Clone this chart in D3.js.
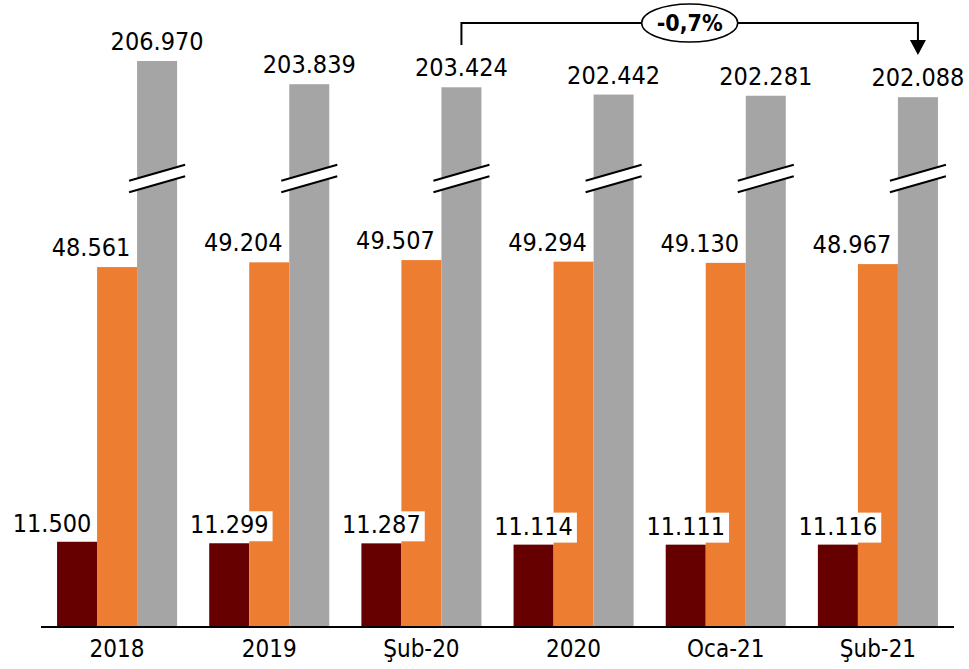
<!DOCTYPE html>
<meta charset="utf-8">
<style>
body { margin: 0; background: #fff; }
text {
  font-family: "DejaVu Sans Condensed", "DejaVu Sans", sans-serif;
  font-size: 25px;
  fill: #000;
}
.axis path { stroke: #000; stroke-width: 2px; }
.axis text { font-size: 24px; }
.change { font-weight: bold; font-size: 23px; }
</style>
<svg width="969" height="669"></svg>
<script src="https://d3js.org/d3.v7.min.js"></script>
<script>

var categories = ["2018", "2019", "Şub-20", "2020", "Oca-21", "Şub-21"];
var darkValues = [11500, 11299, 11287, 11114, 11111, 11116];
var orangeValues = [48561, 49204, 49507, 49294, 49130, 48967];
var grayValues = [206970, 203839, 203424, 202442, 202281, 202088];
var changeLabel = "-0,7%";

// gray bars are cut: this much is left out of their height
var grayBreak = 130600;

var svg = d3.select("svg");

var fmt = d3.formatLocale({decimal: ",", thousands: ".", grouping: [3], currency: ["", ""]}).format(",d");

var x0 = d3.scaleBand()
    .domain(categories)
    .range([41, 954])
    .paddingInner(0.211)
    .paddingOuter(0.1055);

var series = ["dark", "orange", "gray"];
var x1 = d3.scaleBand().domain(series).range([0, x0.bandwidth()]);

var y = d3.scaleLinear().domain([0, 84600]).range([627, 0]);

var color = d3.scaleOrdinal().domain(series).range(["#660000", "#ED7D31", "#A5A5A5"]);

var rows = categories.map(function(c, i) {
  return {cat: c, i: i, dark: darkValues[i], orange: orangeValues[i], gray: grayValues[i]};
});

function barTop(d, k) {
  return k === "gray" ? y(d[k] - grayBreak) : y(d[k]);
}

var groups = svg.selectAll(".grp")
  .data(rows)
  .enter().append("g")
    .attr("class", "grp")
    .attr("transform", function(d) { return "translate(" + x0(d.cat) + ",0)"; });

series.forEach(function(k) {
  groups.append("rect")
      .attr("x", x1(k))
      .attr("width", x1.bandwidth())
      .attr("y", function(d) { return barTop(d, k); })
      .attr("height", function(d) { return y(0) - barTop(d, k); })
      .attr("fill", color(k));
});

// break marks on the gray bars
var by = y(61300), bx0 = x1("gray") - 8, bx1 = x1("gray") + x1.bandwidth() + 8;
groups.append("path")
    .attr("d", "M" + bx0 + "," + (by + 8) + "L" + bx1 + "," + (by - 8) +
               "L" + bx1 + "," + (by + 4) + "L" + bx0 + "," + (by + 19) + "Z")
    .attr("fill", "#fff");
[0, 11.5].forEach(function(off) {
  groups.append("line")
      .attr("x1", bx0).attr("y1", by + 8 + off)
      .attr("x2", bx1).attr("y2", by - 8 + off)
      .attr("stroke", "#000")
      .attr("stroke-width", 2);
});

// value labels
groups.append("text")
    .attr("text-anchor", "middle")
    .attr("x", x1("gray") + x1.bandwidth() / 2)
    .attr("y", function(d) { return barTop(d, "gray") - 11; })
    .text(function(d) { return fmt(d.gray); });

groups.append("text")
    .attr("text-anchor", "middle")
    .attr("x", x1("orange") + x1.bandwidth() / 2 - 26)
    .attr("y", function(d) { return barTop(d, "orange") - 11; })
    .text(function(d) { return fmt(d.orange); });

var darkLab = groups.append("g");
var darkText = darkLab.append("text")
    .attr("text-anchor", "middle")
    .attr("x", function(d) { return x1("dark") + x1.bandwidth() / 2 - (d.i === 0 ? 25 : 0); })
    .attr("y", function(d) { return barTop(d, "dark") - 10; })
    .text(function(d) { return fmt(d.dark); });
darkText.each(function() {
  var b = this.getBBox();
  d3.select(this.parentNode).insert("rect", "text")
      .attr("x", b.x - 3).attr("y", b.y + 1)
      .attr("width", b.width + 7).attr("height", b.height + 1)
      .attr("fill", "#fff");
});

// x axis
svg.append("g")
    .attr("class", "axis")
    .attr("transform", "translate(0," + y(0) + ")")
    .call(d3.axisBottom(x0).tickSize(0).tickPadding(13))
    .call(function(g) { g.select(".domain").attr("d", "M41,0H954"); });

// change annotation from Şub-20 to Şub-21
var ax0 = x0("Şub-20") + x1("gray") + x1.bandwidth() / 2,
    ax1 = x0("Şub-21") + x1("gray") + x1.bandwidth() / 2,
    ay = 23;
svg.append("path")
    .attr("d", "M" + ax0 + ",45V" + ay + "H" + ax1 + "V42")
    .attr("fill", "none")
    .attr("stroke", "#000")
    .attr("stroke-width", 2);
svg.append("path")
    .attr("d", "M" + (ax1 - 8) + ",40L" + (ax1 + 8) + ",40L" + ax1 + ",55Z")
    .attr("fill", "#000");
svg.append("ellipse")
    .attr("cx", (ax0 + ax1) / 2).attr("cy", ay)
    .attr("rx", 48).attr("ry", 19)
    .attr("fill", "#fff")
    .attr("stroke", "#000")
    .attr("stroke-width", 1.5);
svg.append("text")
    .attr("class", "change")
    .attr("text-anchor", "middle")
    .attr("x", (ax0 + ax1) / 2)
    .attr("y", ay + 8)
    .text(changeLabel);

</script>
